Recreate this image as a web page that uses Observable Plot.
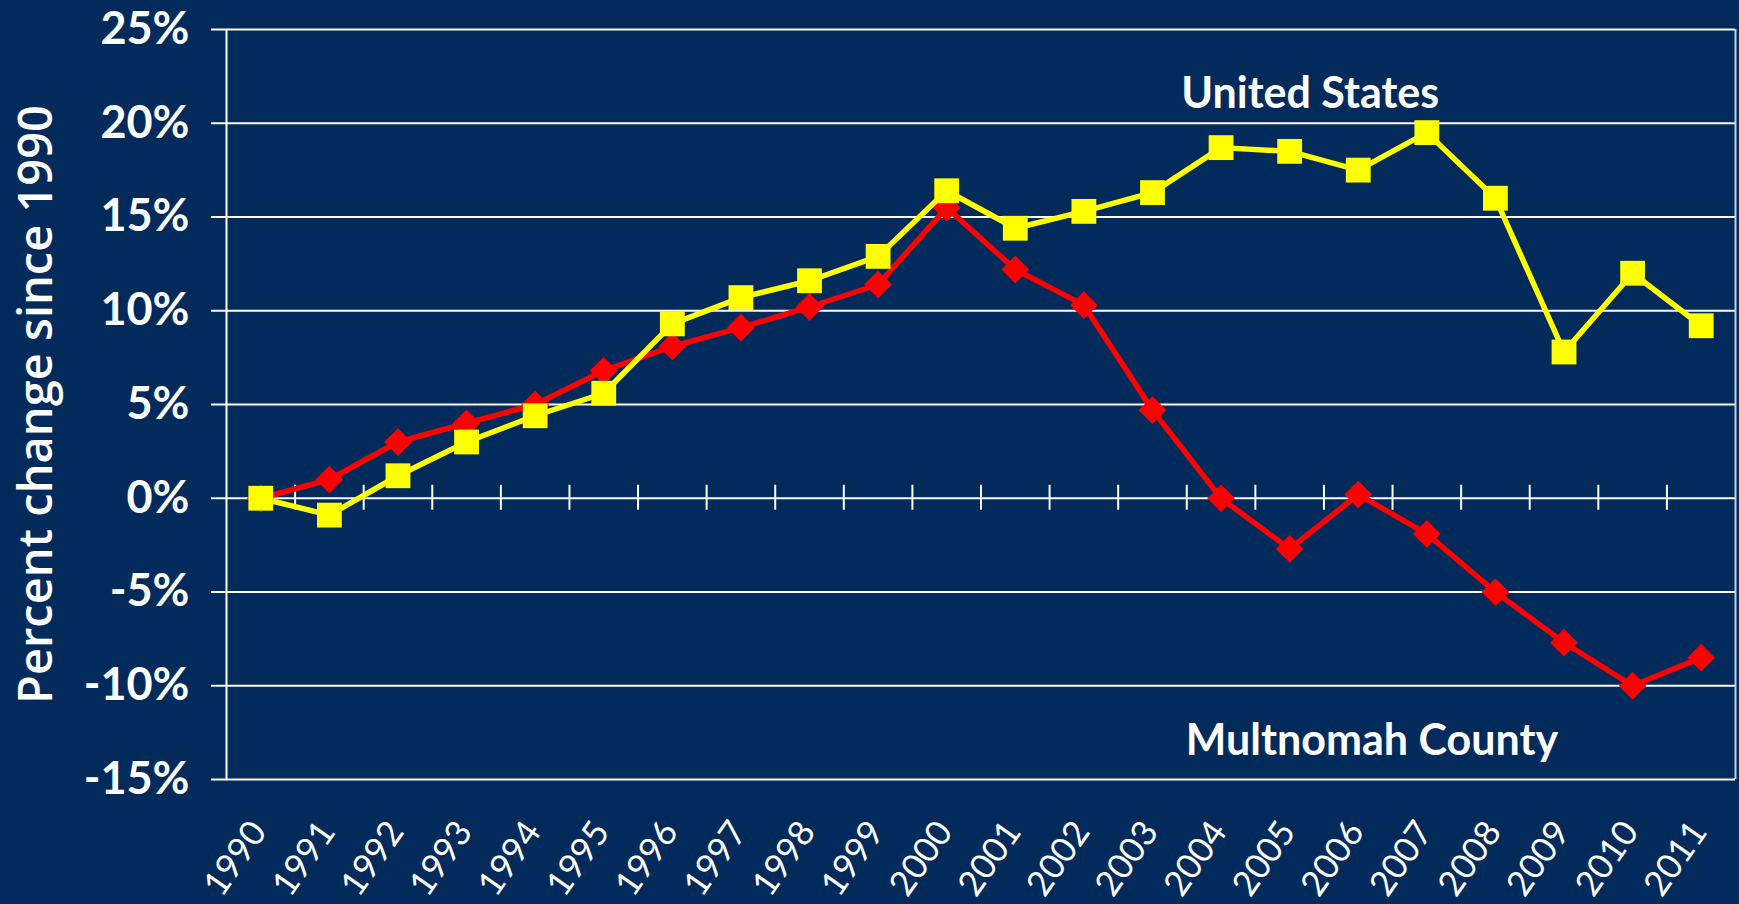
<!DOCTYPE html>
<html><head><meta charset="utf-8">
<script src="https://cdn.jsdelivr.net/npm/d3@7"></script>
<script src="https://cdn.jsdelivr.net/npm/@observablehq/plot@0.6"></script>
<style>
html,body{margin:0;padding:0;background:#022b5c;}
#chart{width:1739px;height:904px;overflow:hidden}
</style></head><body><div id="chart"></div>
<script>
const years = [1990,1991,1992,1993,1994,1995,1996,1997,1998,1999,2000,2001,2002,2003,2004,2005,2006,2007,2008,2009,2010,2011];
const usValues = [0,-0.9,1.2,3.0,4.4,5.6,9.3,10.7,11.6,12.9,16.4,14.4,15.3,16.3,18.7,18.5,17.5,19.5,16.0,7.8,12.0,9.2];
const multnomahValues = [0,1.0,3.0,4.0,5.0,6.8,8.1,9.1,10.2,11.4,15.5,12.2,10.3,4.7,0.0,-2.7,0.2,-1.9,-5.0,-7.7,-10.0,-8.5];
const yTicks = [-15,-10,-5,0,5,10,15,20,25];
const yTitle = "Percent change since 1990";
const annotations = [
  {label:"United States", year:2005.3, value:20.8},
  {label:"Multnomah County", year:2006.2, value:-13.7}
];

const us = years.map((y,i)=>({year:y, value:usValues[i]}));
const mc = years.map((y,i)=>({year:y, value:multnomahValues[i]}));
const xDomain = [years[0]-0.5, years[years.length-1]+0.5];
const bounds = years.slice(1).map(y => y - 0.5);

const chart = Plot.plot({
  width:1739, height:904, marginLeft:226, marginRight:4, marginTop:29, marginBottom:125,
  style:{background:"#022b5c", color:"white", fontFamily:"Lato, sans-serif", overflow:"visible"},
  x:{domain:xDomain, axis:null},
  y:{domain:[-15,25], axis:null},
  marks:[
    Plot.gridY(yTicks, {stroke:"white", strokeOpacity:1, strokeWidth:2}),
    Plot.axisY(yTicks, {label:null, tickFormat:d=>d+"%", tickSize:15, tickPadding:22, fontSize:45, fontWeight:"bold", color:"white", strokeWidth:2}),
    Plot.ruleX([xDomain[0]], {stroke:"white", strokeWidth:2}),
    Plot.ruleX([xDomain[1]], {stroke:"#c5cedb", strokeWidth:2}),
    Plot.ruleX(bounds, {x:d=>d, y1:0, y2:0, insetTop:-13, insetBottom:-12, stroke:"white", strokeWidth:2}),
    Plot.text(years, {x:d=>d, frameAnchor:"bottom", text:d=>String(d), rotate:-55, textAnchor:"end", lineAnchor:"middle", dx:-2, dy:46, fontSize:35, fontWeight:"normal", fill:"white"}),
    Plot.line(mc, {x:"year", y:"value", stroke:"#ff0000", strokeWidth:5.5}),
    Plot.dot(mc, {x:"year", y:"value", symbol:"diamond2", r:12.5, fill:"#ff0000"}),
    Plot.line(us, {x:"year", y:"value", stroke:"#ffff00", strokeWidth:5.5}),
    Plot.dot(us, {x:"year", y:"value", symbol:"square", r:14, fill:"#ffff00"}),
    Plot.text(annotations, {x:"year", y:"value", text:"label", fontSize:43, fontWeight:"bold", fill:"white", textAnchor:"middle", lineAnchor:"bottom"}),
    Plot.text([yTitle], {frameAnchor:"left", text:d=>d, rotate:-90, textAnchor:"middle", dx:-190, fontSize:47, fontFamily:"Open Sans", fontWeight:600, fill:"white", lineAnchor:"middle"})
  ]
});
document.getElementById("chart").appendChild(chart);
</script></body></html>
